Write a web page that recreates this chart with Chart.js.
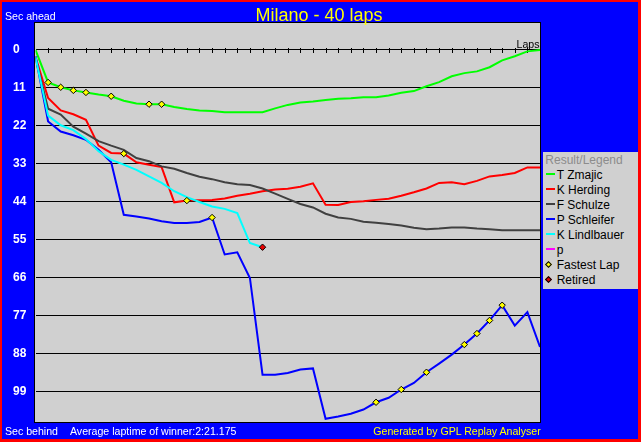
<!DOCTYPE html>
<html><head><meta charset="utf-8">
<script src="https://cdn.jsdelivr.net/npm/chart.js@4.4.1/dist/chart.umd.min.js"></script>
<style>
html,body{margin:0;padding:0;background:#0000FF;width:641px;height:442px;overflow:hidden;font-family:"Liberation Sans",Arial,sans-serif;}
#wrap{position:absolute;left:0;top:0;width:641px;height:442px;}
.t{position:absolute;white-space:nowrap;line-height:1;}
#frame{position:absolute;left:0;top:0;width:641px;height:442px;box-sizing:border-box;border-style:solid;border-color:#FF0000;border-width:2px 3px 3px 2px;pointer-events:none;}
#legend{position:absolute;left:543px;top:152px;width:95px;height:137px;background:#D0D0D0;font-size:12px;color:#000;}
.row{position:absolute;left:0;width:95px;height:15px;line-height:15px;white-space:nowrap;}
.row .txt{position:absolute;left:13.7px;top:0;}
.sw{position:absolute;left:3px;top:5px;width:9px;height:2px;}
.dia{position:absolute;left:3.2px;top:4.2px;width:3px;height:3px;border:1px solid #000;transform:rotate(45deg);}
</style></head>
<body>
<div id="wrap"><canvas id="c" width="641" height="442"></canvas></div>
<div class="t" style="left:0;width:638px;text-align:center;top:5.5px;font-size:18px;color:#FFFF00;">Milano - 40 laps</div>
<div class="t" style="left:5px;top:11px;font-size:10.6px;color:#FFFFFF;">Sec ahead</div>
<div class="t" style="left:5px;top:426px;font-size:10.6px;color:#FFFFFF;">Sec behind</div>
<div class="t" style="left:70px;top:426px;font-size:10.6px;color:#FFFFFF;">Average laptime of winner:2:21.175</div>
<div class="t" style="right:100.3px;top:426px;font-size:10.6px;color:#FFFF00;">Generated by GPL Replay Analyser</div>
<div class="t" style="right:101.5px;top:38.5px;font-size:10.6px;color:#000000;">Laps</div>
<div id="legend">
  <div class="row" style="top:1px;"><span style="position:absolute;left:2.3px;color:#8C8C8C;">Result/Legend</span></div>
  <div class="row" style="top:16px;"><span class="sw" style="background:#00FF00"></span><span class="txt">T Zmajic</span></div>
  <div class="row" style="top:31px;"><span class="sw" style="background:#FF0000"></span><span class="txt">K Herding</span></div>
  <div class="row" style="top:46px;"><span class="sw" style="background:#404040"></span><span class="txt">F Schulze</span></div>
  <div class="row" style="top:61px;"><span class="sw" style="background:#0000FF"></span><span class="txt">P Schleifer</span></div>
  <div class="row" style="top:76px;"><span class="sw" style="background:#00FFFF"></span><span class="txt">K Lindlbauer</span></div>
  <div class="row" style="top:91px;"><span class="sw" style="background:#FF00FF"></span><span class="txt">p</span></div>
  <div class="row" style="top:106px;"><span class="dia" style="background:#FFFF00"></span><span class="txt">Fastest Lap</span></div>
  <div class="row" style="top:121px;"><span class="dia" style="background:#E80000"></span><span class="txt">Retired</span></div>
</div>
<div id="frame"></div>
<script>
const laps = [0,1,2,3,4,5,6,7,8,9,10,11,12,13,14,15,16,17,18,19,20,21,22,23,24,25,26,27,28,29,30,31,32,33,34,35,36,37,38,39,40];
const yTickValues = [0,11,22,33,44,55,66,77,88,99];

const zmajic = [0,9.4,10.8,11.7,12.3,12.9,13.4,14.7,15.5,15.7,15.7,16.5,17.1,17.5,17.7,18.0,18.0,18.0,18.0,16.9,15.9,15.2,14.9,14.5,14.1,14.0,13.7,13.7,13.2,12.4,11.9,10.5,9.3,7.6,6.7,6.2,5.0,3.0,1.8,0.4,0];
const herding = [2.0,13.9,17.5,18.6,20.2,27.7,29.8,30.0,32.5,33.2,33.9,44.1,43.6,43.5,43.4,43.0,42.2,41.6,40.9,40.4,40.2,39.6,38.6,44.8,44.9,44.0,43.8,43.4,43.1,42.2,41.2,40.1,38.5,38.3,38.9,37.9,36.6,36.2,35.6,34.0,34.0];
const schulze = [2.3,17.0,18.7,22.2,24.2,26.4,27.7,28.9,31.3,32.2,33.7,34.4,35.6,36.7,37.4,38.3,38.9,39.1,40.1,41.6,43.1,44.6,45.6,47.4,48.5,48.9,49.7,50.0,50.4,50.8,51.5,51.9,51.7,51.4,51.4,51.7,51.9,52.2,52.2,52.2,52.2];
const schleifer = [1.8,20.7,23.6,24.7,26.0,28.9,32.5,47.7,48.2,48.8,49.6,50.1,50.1,49.8,48.5,59.2,58.6,66.0,94.0,94.0,93.5,92.5,92.2,106.8,106.1,105.3,104.1,102.0,100.7,98.3,96.4,93.3,90.8,88.2,85.3,82.1,78.3,73.9,79.8,75.9,86.0];
const lindlbauer = [2.1,19.0,21.8,23.2,25.8,29.3,31.8,33.2,34.7,36.6,38.5,40.9,42.6,44.0,45.3,46.0,47.2,55.9,57.1];
const pSeries = [];

const fastestZmajic = [1,2,3,4,6,9,10];
const fastestHerding = [7,12];
const fastestSchleifer = [14,27,29,31,34,35,36,37];
const retiredLindlbauer = [18];

function pts(series){
  return series.map((v,i)=>({x:laps[i], y:v})).filter(p=>p.y!=null);
}
function markers(series, lapList){
  return lapList.map(l=>({x:l, y:series[laps.indexOf(l)]}));
}
function lineDs(label, series, color, order){
  return {label, data:pts(series), borderColor:color, backgroundColor:color, borderWidth:2,
    pointRadius:0, pointHoverRadius:0, tension:0, fill:false, order};
}

const fastestPts = [].concat(markers(zmajic,fastestZmajic), markers(herding,fastestHerding), markers(schleifer,fastestSchleifer));
const retiredPts = markers(lindlbauer, retiredLindlbauer);

const bgPlugin = {
  id:'bg',
  beforeDraw(chart){
    const a = chart.chartArea, ctx = chart.ctx;
    ctx.save();
    ctx.fillStyle = '#D0D0D0';
    ctx.fillRect(34, a.top, a.right - 34, a.bottom - a.top);
    ctx.restore();
  },
  beforeDatasetsDraw(chart){
    const ctx = chart.ctx, xs = chart.scales.x, ys = chart.scales.y;
    const y0 = Math.round(ys.getPixelForValue(0));
    ctx.save();
    ctx.strokeStyle = '#000'; ctx.lineWidth = 1;
    ctx.beginPath();
    for (const l of laps){
      if (l === 0 || l === 40) continue;
      const x = Math.round(xs.getPixelForValue(l)) + 0.5;
      ctx.moveTo(x, y0 - 2); ctx.lineTo(x, y0 + 3);
    }
    ctx.stroke();
    ctx.restore();
  },
  afterDraw(chart){
    const a = chart.chartArea, ctx = chart.ctx;
    ctx.save();
    ctx.strokeStyle = '#000'; ctx.lineWidth = 1;
    ctx.strokeRect(34.5, a.top + 0.5, a.right - 34, a.bottom - a.top - 1);
    ctx.restore();
  }
};

new Chart(document.getElementById('c'), {
  type:'line',
  data:{ datasets:[
    {label:'Fastest Lap', data:fastestPts, showLine:false, pointStyle:'rectRot', pointRadius:3.2, pointHoverRadius:3.2,
      pointBackgroundColor:'#FFFF00', pointBorderColor:'#000000', pointBorderWidth:1, order:0},
    {label:'Retired', data:retiredPts, showLine:false, pointStyle:'rectRot', pointRadius:3.2, pointHoverRadius:3.2,
      pointBackgroundColor:'#E80000', pointBorderColor:'#000000', pointBorderWidth:1, order:0},
    lineDs('T Zmajic', zmajic, '#00FF00', 6),
    lineDs('K Herding', herding, '#FF0000', 5),
    lineDs('F Schulze', schulze, '#404040', 4),
    lineDs('P Schleifer', schleifer, '#0000FF', 3),
    lineDs('K Lindlbauer', lindlbauer, '#00FFFF', 2),
    lineDs('p', pSeries, '#FF00FF', 1)
  ]},
  options:{
    responsive:false, animation:false, devicePixelRatio:1,
    layout:{padding:{left:13, top:22, right:101, bottom:19}},
    plugins:{legend:{display:false}, title:{display:false}, tooltip:{enabled:false}},
    events:[],
    scales:{
      x:{type:'linear', min:0, max:40, display:false},
      y:{type:'linear', reverse:true, min:-8.1, max:108,
        afterBuildTicks(scale){ scale.ticks = yTickValues.map(v=>({value:v})); },
        afterFit(scale){ scale.width = 22.5; },
        border:{display:false},
        grid:{color:'#000000', lineWidth:1, drawTicks:false},
        ticks:{color:'#FFFFFF', padding:0, crossAlign:'far', autoSkip:false,
          font:{family:'"Liberation Sans", Arial, sans-serif', size:12, weight:'bold'},
          callback:(v)=>String(v)}
      }
    }
  },
  plugins:[bgPlugin]
});
</script>
</body></html>
